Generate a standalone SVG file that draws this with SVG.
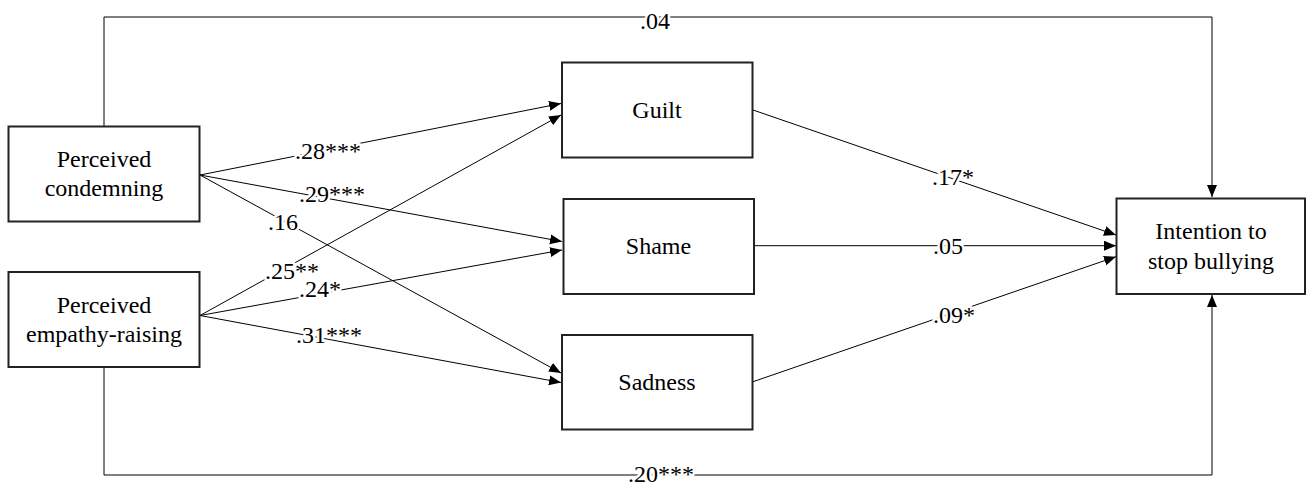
<svg xmlns="http://www.w3.org/2000/svg" width="1307" height="484" viewBox="0 0 1307 484">
<style>
.box{fill:#fff;stroke:#222;stroke-width:2}
.c{fill:none;stroke:#000;stroke-width:1}
.lab{stroke:#fff;stroke-width:5;paint-order:stroke;stroke-linejoin:round}
</style>
<defs>
<marker id="ah" markerUnits="userSpaceOnUse" markerWidth="13" markerHeight="11" refX="12" refY="5" orient="auto">
<path d="M0,0 L12,5 L0,10 z" fill="#000"/>
</marker>
</defs>
<rect width="1307" height="484" fill="#fff"/>
<g id="connectors" font-family="Liberation Serif, Times New Roman, DejaVu Serif, serif" font-size="24" text-anchor="middle" fill="#000">
<path class="c" d="M104,126 V17 H1212 V197" marker-end="url(#ah)"/>
<path class="c" d="M104,367 V475 H1212 V295" marker-end="url(#ah)"/>
<line class="c" x1="200" y1="175" x2="561" y2="103.5" marker-end="url(#ah)"/>
<line class="c" x1="200" y1="175" x2="562" y2="241.5" marker-end="url(#ah)"/>
<line class="c" x1="200" y1="175" x2="561" y2="373" marker-end="url(#ah)"/>
<line class="c" x1="200" y1="315.5" x2="561" y2="115" marker-end="url(#ah)"/>
<line class="c" x1="200" y1="315.5" x2="562" y2="250" marker-end="url(#ah)"/>
<line class="c" x1="200" y1="315.5" x2="561" y2="382.5" marker-end="url(#ah)"/>
<line class="c" x1="753" y1="110" x2="1116" y2="235" marker-end="url(#ah)"/>
<line class="c" x1="754" y1="245.7" x2="1116" y2="245.7" marker-end="url(#ah)"/>
<line class="c" x1="753" y1="381.7" x2="1116" y2="256.7" marker-end="url(#ah)"/>
<text class="lab" x="655" y="28.5">.04</text>
<text class="lab" x="661" y="482">.20***</text>
<text class="lab" x="328" y="159">.28***</text>
<text class="lab" x="332" y="201.5">.29***</text>
<text class="lab" x="283" y="230">.16</text>
<text class="lab" x="292" y="279">.25**</text>
<text class="lab" x="320" y="297">.24*</text>
<text class="lab" x="329" y="343">.31***</text>
<text class="lab" x="953" y="185">.17*</text>
<text class="lab" x="948" y="254">.05</text>
<text class="lab" x="954" y="322.5">.09*</text>
</g>
<g font-family="Liberation Serif, Times New Roman, DejaVu Serif, serif" font-size="24" text-anchor="middle" fill="#000">
<g id="condemning">
<rect class="box" x="8.5" y="126.5" width="191" height="95"/>
<text x="104" y="166.5">Perceived</text>
<text x="104" y="195.5">condemning</text>
</g>
<g id="empathy">
<rect class="box" x="8.5" y="272" width="191" height="95"/>
<text x="104" y="312.5">Perceived</text>
<text x="104" y="341.5">empathy-raising</text>
</g>
<g id="guilt">
<rect class="box" x="562" y="62.5" width="190.5" height="95"/>
<text x="657" y="117.5">Guilt</text>
</g>
<g id="shame">
<rect class="box" x="563.5" y="199" width="190.5" height="95"/>
<text x="658.5" y="254">Shame</text>
</g>
<g id="sadness">
<rect class="box" x="562" y="335" width="190.5" height="94.5"/>
<text x="657" y="390">Sadness</text>
</g>
<g id="intention">
<rect class="box" x="1116.5" y="198.5" width="188.5" height="95.5"/>
<text x="1211" y="239">Intention to</text>
<text x="1211" y="268.5">stop bullying</text>
</g>
</g>
</svg>
